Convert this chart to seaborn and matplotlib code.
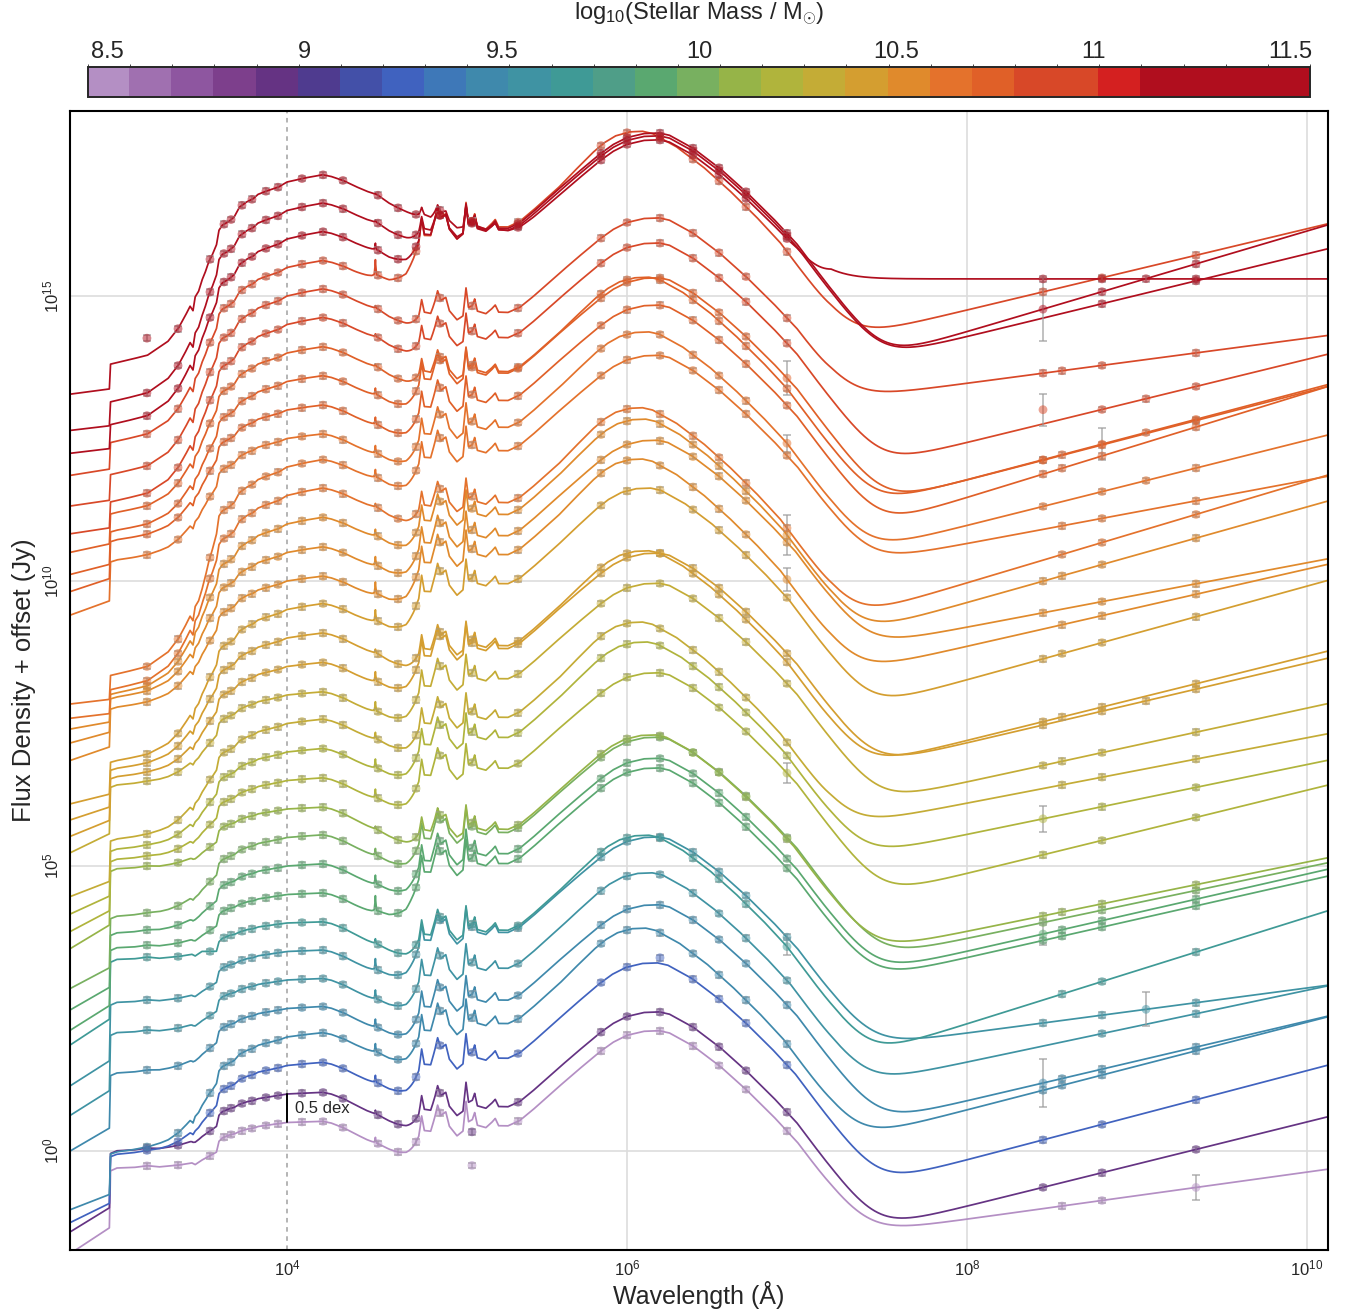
import numpy as np
import pandas as pd
import matplotlib
matplotlib.use("Agg")
import matplotlib.pyplot as plt
import seaborn as sns
from matplotlib.colors import ListedColormap, BoundaryNorm
from matplotlib.cm import ScalarMappable

# ------------------------------------------------------------------ colour bar
cbar_colors = ["#b48fc4", "#a070b0", "#8e56a0", "#7d3f8c", "#653383", "#4f3b8f",
               "#4350a8", "#4062bf", "#3e78b8", "#3f89ac", "#3f93a3", "#3f9a96",
               "#4f9e88", "#5aa870", "#78b060", "#96b448", "#b0b43c", "#c4ac36",
               "#d49e30", "#e08a2c", "#e4722c", "#e06028", "#d84828", "#d84828",
               "#d42020", "#b00e1e", "#b00e1e", "#b00e1e", "#b00e1e"]
cbar_range = [8.45, 11.55]
cbar_ticks = [8.5, 9, 9.5, 10, 10.5, 11, 11.5]
cbar_ticklabels = ["8.5", "9", "9.5", "10", "10.5", "11", "11.5"]

# ------------------------------------------------------------------ per-galaxy values (bottom -> top)
stellar_mass = [8.50, 8.93, 9.25, 9.47, 9.47, 9.57, 9.57, 9.68, 9.89, 9.89, 10.00, 10.11,
                10.21, 10.21, 10.32, 10.32, 10.43, 10.43, 10.43, 10.53, 10.53, 10.53, 10.64,
                10.64, 10.64, 10.75, 10.75, 10.75, 10.86, 10.86, 10.96, 11.18, 11.28, 11.39]
# log flux at 1 micron (offset stack, 0.5 dex apart)
log_f_1um = [0.5, 1.0, 1.5, 2.0, 2.5, 3.0, 3.5, 4.0, 4.5, 5.0, 5.5, 6.0, 6.5, 7.0, 7.5, 8.0, 8.5,
             9.0, 9.5, 10.0, 10.5, 11.0, 11.5, 12.0, 12.5, 13.0, 13.5, 14.0, 14.5, 15.0, 15.5,
             16.0, 16.5, 17.0]
# log flux at 1500 A relative to 1 micron
uv_rel_1500 = [-0.76, -0.95, -1.49, -1.93, -1.08, -0.88, -0.85, -0.60, -0.89, -1.12, -1.32,
               -1.00, -1.32, -1.63, -1.94, -1.51, -1.85, -2.19, -2.54, -2.12, -2.43, -2.84,
               -3.25, -3.50, -2.04, -2.18, -2.50, -2.68, -2.96, -2.98, -2.92, -3.10, -3.20,
               -3.04]
# log flux of the far-IR dust peak
log_dust_peak = [2.11, 2.44, 3.30, 3.91, 4.32, 4.88, 5.51, 5.54, 6.72, 6.89, 7.26, 7.30, 8.39,
                 8.93, 9.28, 9.96, 10.49, 10.53, 11.63, 12.14, 12.47, 12.84, 13.04, 13.96, 14.37,
                 14.84, 15.32, 15.33, 15.93, 16.37, 17.89, 17.86, 17.81, 17.74]
# shift (dex in wavelength) of the dust peak
dust_peak_shift = [0, 0, -0.01, -0.08, 0, -0.04, 0, -0.06, 0, 0, 0, -0.02, 0, -0.07, -0.10, 0,
                   0, -0.06, -0.05, -0.10, -0.01, -0.08, -0.10, 0, -0.06, 0, 0, -0.06, 0, 0,
                   -0.10, 0, 0, 0]
# log flux at the mm minimum (5e7 A) and at 1e10 A
log_mm_min = [-1.32, -1.19, -0.39, 0.49, 0.67, 1.37, 1.95, 1.95, 3.19, 3.30, 3.54, 3.67, 4.65,
              5.37, 5.93, 6.28, 6.95, 6.98, 8.02, 8.65, 9.02, 9.37, 9.70, 10.49, 10.75, 11.19,
              11.54, 11.54, 12.21, 13.35, 14.54, 14.11, 14.07, 15.30]
log_radio_end = [-0.37, 0.51, 1.41, 2.26, 2.28, 2.82, 2.86, 4.10, 4.74, 4.86, 4.98, 5.07, 6.33,
                 6.78, 7.25, 7.77, 8.56, 8.68, 9.91, 10.21, 10.32, 11.30, 11.75, 11.77, 12.47,
                 13.30, 13.32, 13.35, 13.89, 14.26, 16.18, 16.14, 15.74, 15.30]
# radio bands observed per galaxy (indices into radio_bands)
radio_sets = ["124", "024", "024", "0124", "0124", "24", "0234", "124", "0124", "0124", "024",
              "0124", "024", "024", "124", "0124", "0234", "0124", "0124", "124", "024", "0124",
              "124", "124", "0234", "0124", "024", "01234", "0234", "0124", "024", "0234",
              "24", "024"]

# ------------------------------------------------------------------ templates (log lambda, rel. log flux)
young_lam = [2.70, 2.955, 2.962, 3.00, 3.10, 3.18, 3.25, 3.36, 3.40, 3.44, 3.46, 3.50, 3.55,
             3.585, 3.60, 3.62, 3.66, 3.69, 3.72, 3.76, 3.80, 3.83, 3.88, 3.95, 4.00, 4.10,
             4.21, 4.26, 4.33, 4.40, 4.47, 4.53, 4.60, 4.66, 4.70, 4.80, 5.0, 5.5, 6.0, 7.0, 10.2]
young_val = [-2.35, -1.85, -0.85, -0.80, -0.79, -0.76, -0.78, -0.75, -0.73, -0.71, -0.74, -0.66,
             -0.58, -0.52, -0.33, -0.27, -0.22, -0.20, -0.16, -0.12, -0.10, -0.07, -0.05, -0.02,
             0.0, 0.01, 0.02, -0.01, -0.09, -0.20, -0.31, -0.39, -0.51, -0.61, -0.66, -0.82,
             -1.15, -2.0, -2.9, -4.7, -10.5]
old_lam = [2.70, 2.955, 2.962, 3.05, 3.18, 3.30, 3.36, 3.40, 3.43, 3.447, 3.46, 3.48, 3.50,
           3.52, 3.54, 3.56, 3.585, 3.60, 3.62, 3.66, 3.69, 3.72, 3.76, 3.80, 3.83, 3.88, 3.95,
           4.00, 4.10, 4.21, 4.26, 4.33, 4.40, 4.47, 4.53, 4.60, 4.66, 4.70, 4.80, 5.0, 5.5,
           6.0, 7.0, 10.2]
old_val = [-3.77, -3.68, -3.26, -3.20, -3.10, -2.85, -2.62, -2.40, -2.22, -2.30, -2.05, -1.95,
           -1.75, -1.60, -1.42, -1.30, -1.12, -0.86, -0.77, -0.70, -0.62, -0.45, -0.36, -0.30,
           -0.22, -0.16, -0.09, 0.0, 0.07, 0.13, 0.10, 0.03, -0.07, -0.16, -0.22, -0.37, -0.47,
           -0.53, -0.70, -1.05, -1.95, -2.85, -4.6, -10.3]
dust_lam = [2.70, 3.50, 4.40, 4.50, 4.513, 4.520, 4.527, 4.60, 4.70, 4.745, 4.775, 4.792, 4.808,
            4.845, 4.870, 4.886, 4.905, 4.934, 4.955, 5.00, 5.035, 5.053, 5.068, 5.090, 5.104,
            5.120, 5.17, 5.205, 5.225, 5.245, 5.30, 5.37, 5.45, 5.565, 5.70, 5.84, 5.92, 6.00,
            6.10, 6.19, 6.25, 6.39, 6.55, 6.70, 6.86, 7.00, 7.20, 7.40, 7.60, 8.00, 10.2]
dust_val = [-14.0, -8.0, -4.0, -3.4, -3.2, -2.5, -3.2, -3.1, -2.7, -2.3, -2.0, -1.55, -1.85,
            -1.85, -1.55, -1.33, -1.52, -1.45, -1.72, -1.90, -1.80, -1.25, -1.62, -1.58, -1.45,
            -1.68, -1.72, -1.62, -1.55, -1.68, -1.68, -1.58, -1.38, -1.07, -0.72, -0.37, -0.20,
            -0.08, -0.01, 0.0, -0.04, -0.27, -0.63, -1.03, -1.50, -1.95, -2.75, -3.55, -4.35,
            -5.95, -14.75]

# ------------------------------------------------------------------ photometric bands (log lambda)
optical_ir_bands = [3.176, 3.359, 3.547, 3.629, 3.671, 3.735, 3.794, 3.876, 3.947, 4.088, 4.212,
                    4.329, 4.535, 4.653, 4.759, 4.900, 5.088, 5.359, 5.847, 6.000, 6.194, 6.388,
                    6.541, 6.700, 6.941]
radio_bands = [8.447, 8.559, 8.794, 9.053, 9.347]
# larger error bars (galaxy, log lambda, dex)
big_err_gal = [31, 28, 27, 13, 9, 6, 4, 0, 24, 26, 21, 19, 12, 7]
big_err_lam = [8.447, 8.447, 8.794, 8.447, 8.447, 9.053, 8.447, 9.347, 6.941, 6.941, 6.941,
               6.941, 6.941, 6.941]
big_err_dex = [0.55, 0.28, 0.28, 0.23, 0.20, 0.30, 0.42, 0.22, 0.15, 0.30, 0.35, 0.20, 0.18, 0.15]
# points lying off the model (galaxy, log lambda, dex)
off_gal = [0, 1, 33, 28, 2]
off_lam = [5.088, 5.088, 3.176, 8.447, 6.194]
off_dex = [-0.80, -0.55, 0.30, 0.25, 0.10]

# ------------------------------------------------------------------ build curves
cmap = ListedColormap(cbar_colors)
bnorm = BoundaryNorm(np.linspace(cbar_range[0], cbar_range[1], len(cbar_colors) + 1),
                     len(cbar_colors))
colors = [cmap(bnorm(m)) for m in stellar_mass]

allk = np.array(young_lam + old_lam + dust_lam)
grid = np.unique(np.concatenate([np.linspace(2.70, 10.15, 1600),
                                 allk[(allk > 2.70) & (allk < 10.15)]]))
y_uv = np.interp(3.176, young_lam, young_val)
o_uv = np.interp(3.176, old_lam, old_val)
uv_ramp = np.clip((3.60 - grid) / 0.10, 0, 1)

rows = []
models = []
for k in range(len(stellar_mass)):
    b = float(np.clip((uv_rel_1500[k] - y_uv) / (o_uv - y_uv), 0, 1))
    extra = uv_rel_1500[k] - ((1 - b) * y_uv + b * o_uv)
    S = (1 - b) * np.interp(grid, young_lam, young_val) + b * np.interp(grid, old_lam, old_val)
    S = S + extra * uv_ramp
    w = np.clip((grid - 5.6) / 0.5, 0, 1)
    D = np.interp(grid - dust_peak_shift[k] * w, dust_lam, dust_val)
    slope = (log_radio_end[k] - log_mm_min[k]) / (10.0 - 7.7)
    R = log_mm_min[k] + slope * (grid - 7.7) - 2.0 * np.clip(7.2 - grid, 0, None)
    tot = np.log10(10 ** (log_f_1um[k] + S) + 10 ** (log_dust_peak[k] + D) + 10 ** R)
    models.append(tot)
    rows.append(pd.DataFrame({"wavelength": 10 ** grid, "flux": 10 ** tot,
                              "gal": f"g{k:02d}"}))
df = pd.concat(rows, ignore_index=True)
palette = {f"g{k:02d}": colors[k] for k in range(len(stellar_mass))}

# ------------------------------------------------------------------ figure
sns.set_style("white")
plt.rcParams["font.family"] = ["Liberation Sans", "DejaVu Sans"]
plt.rcParams["mathtext.fontset"] = "custom"
plt.rcParams["mathtext.rm"] = "Liberation Sans"
plt.rcParams["mathtext.it"] = "Liberation Sans:italic"

W, H = 1352, 1310
fig = plt.figure(figsize=(W / 100, H / 100), dpi=100)
ax = fig.add_axes([70 / W, 1 - 1250 / H, 1258 / W, 1139 / H])

# grid lines
for gx in [1e6, 1e8, 1e10]:
    ax.axvline(gx, color="#dddddd", lw=1.2, zorder=0)
for gy in [1e0, 1e5, 1e10, 1e15]:
    ax.axhline(gy, color="#dddddd", lw=1.2, zorder=0)
ax.axvline(1e4, color="#a0a0a0", lw=1.1, ls=(0, (3, 3)), zorder=0)

sns.lineplot(data=df, x="wavelength", y="flux", hue="gal", palette=palette, units="gal",
             estimator=None, sort=False, legend=False, lw=1.25, ax=ax, zorder=2)

# photometry
for k in range(len(stellar_mass)):
    bands = list(optical_ir_bands) + [radio_bands[int(c)] for c in radio_sets[k]]
    lv = np.interp(bands, grid, models[k])
    err = np.full(len(bands), 0.05)
    for g, l, e in zip(big_err_gal, big_err_lam, big_err_dex):
        if g == k:
            for i, bb in enumerate(bands):
                if abs(bb - l) < 1e-6:
                    err[i] = e
    for g, l, e in zip(off_gal, off_lam, off_dex):
        if g == k:
            for i, bb in enumerate(bands):
                if abs(bb - l) < 1e-6:
                    lv[i] += e
    xs = 10 ** np.array(bands)
    ys = 10 ** lv
    ax.errorbar(xs, ys, yerr=[ys - 10 ** (lv - err), 10 ** (lv + err) - ys], fmt="none",
                ecolor="#9c9c9c", elinewidth=1.1, capsize=2.8, capthick=1.1, alpha=0.8,
                zorder=3)
    ax.scatter(xs, ys, s=40, color=colors[k], alpha=0.5, edgecolors="none", zorder=4)

# 0.5 dex annotation
ax.plot([1e4, 1e4], [10 ** log_f_1um[0], 10 ** log_f_1um[1]], color="black", lw=1.4, zorder=5)
ax.text(1.12e4, 10 ** ((log_f_1um[0] + log_f_1um[1]) / 2), "0.5 dex", fontsize=12,
        va="center", ha="left", zorder=5)

ax.set_xscale("log")
ax.set_yscale("log")
ax.set_xlim(10 ** 2.7235, 10 ** 10.1235)
ax.set_ylim(10 ** -1.737, 10 ** 18.246)

ax.set_xticks([1e4, 1e6, 1e8, 1e10])
ax.set_xticklabels([r"$10^{4}$", r"$10^{6}$", r"$10^{8}$", r"$10^{10}$"], fontsize=12)
ax.set_xticks([1e3, 1e5, 1e7, 1e9], minor=True)
ax.set_xticklabels([], minor=True)
ax.set_yticks([1e0, 1e5, 1e10, 1e15])
ax.set_yticklabels([r"$10^{0}$", r"$10^{5}$", r"$10^{10}$", r"$10^{15}$"], fontsize=12,
                   rotation=90, va="center")
ax.set_yticks([10.0 ** e for e in range(-1, 19) if e % 5 != 0], minor=True)
ax.set_yticklabels([], minor=True)
ax.tick_params(axis="both", which="major", direction="in", length=8, width=1.4,
               top=False, right=False, pad=6)
ax.tick_params(axis="both", which="minor", direction="in", length=5, width=1.2,
               top=False, right=False)
for sp in ax.spines.values():
    sp.set_linewidth(1.5)
    sp.set_color("black")

ax.set_xlabel("Wavelength (Å)", fontsize=18, labelpad=2)
ax.set_ylabel("Flux Density + offset (Jy)", fontsize=18.5, labelpad=4)

# colour bar
cax = fig.add_axes([88 / W, 1 - 97 / H, 1222 / W, 30 / H])
sm = ScalarMappable(norm=bnorm, cmap=cmap)
cb = fig.colorbar(sm, cax=cax, orientation="horizontal",
                  boundaries=np.linspace(cbar_range[0], cbar_range[1], len(cbar_colors) + 1))
cb.set_ticks(cbar_ticks)
cb.set_ticklabels(cbar_ticklabels)
cax.xaxis.set_ticks_position("top")
cax.tick_params(length=0, labelsize=17, pad=3)
cb.outline.set_linewidth(1.4)
cb.solids.set_edgecolor("face")
fig.text(699 / W, 1 - 14 / H, r"log$_{10}$(Stellar Mass / M$_{\odot}$)", fontsize=17,
         ha="center", va="center")

fig.savefig("out.png", dpi=100)
